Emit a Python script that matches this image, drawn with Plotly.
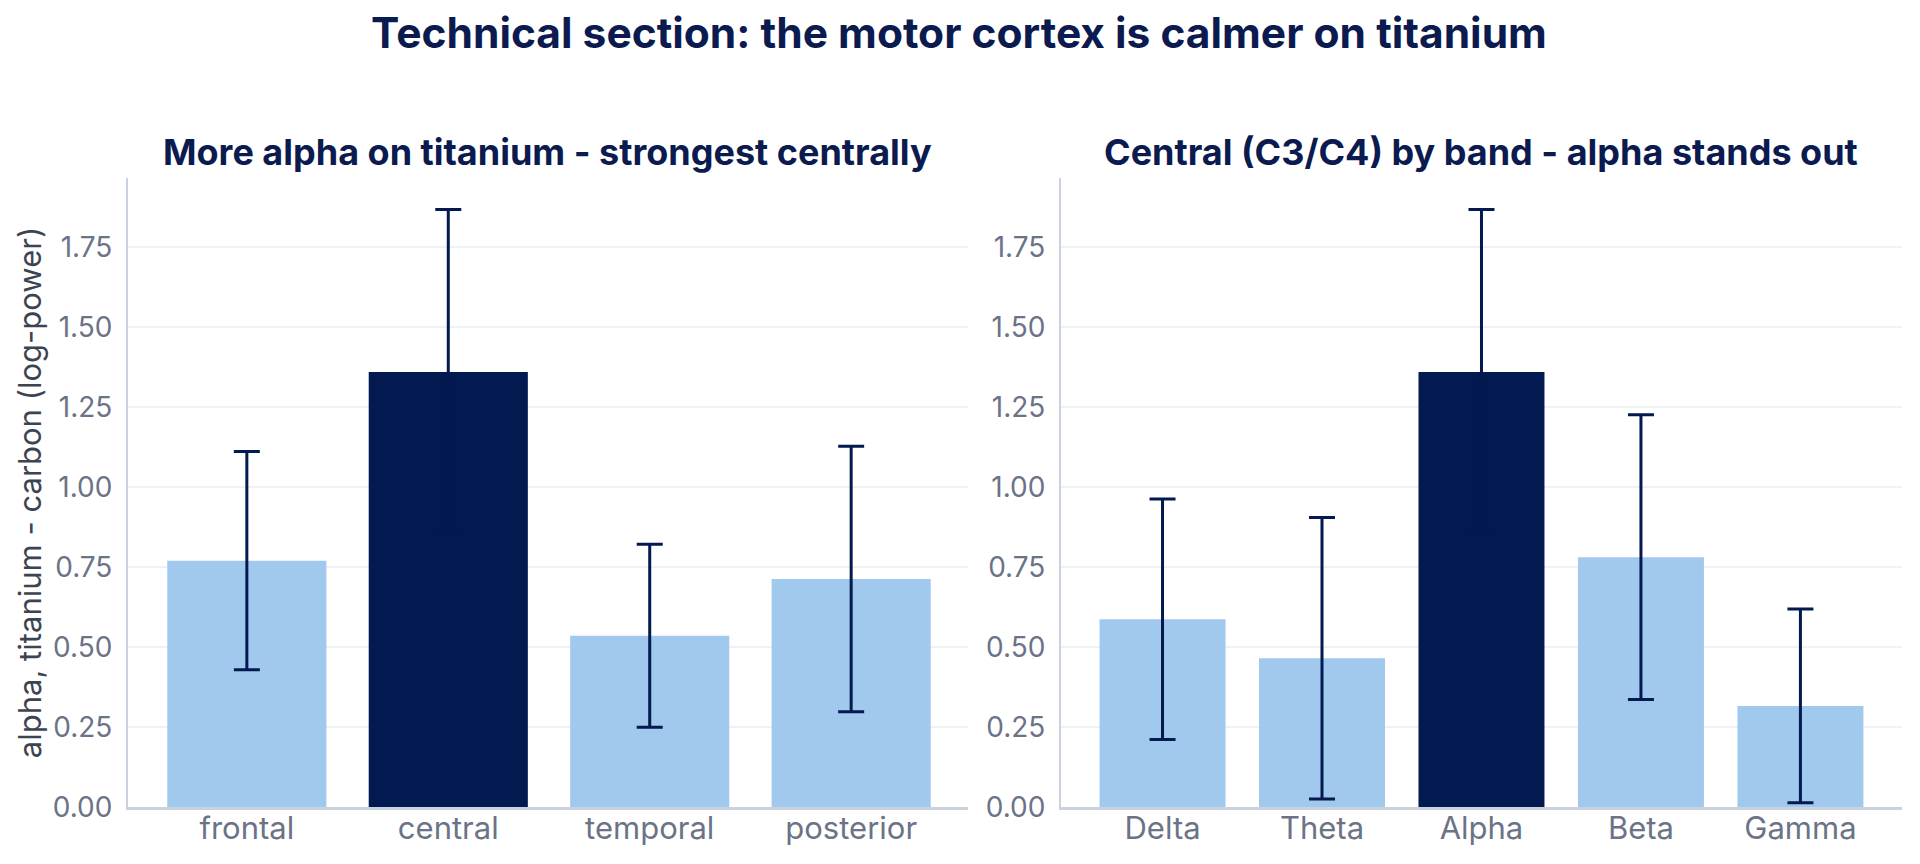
import plotly.graph_objects as go
from plotly.subplots import make_subplots

# Left panel: alpha difference by region
regions = ["frontal", "central", "temporal", "posterior"]
region_vals = [0.77, 1.36, 0.535, 0.713]
region_err = [0.341, 0.508, 0.286, 0.415]

# Right panel: central (C3/C4) by band
bands = ["Delta", "Theta", "Alpha", "Beta", "Gamma"]
band_vals = [0.587, 0.465, 1.36, 0.781, 0.316]
band_err = [0.376, 0.440, 0.508, 0.445, 0.303]

highlight_region = "central"
highlight_band = "Alpha"

DARK = "#021a50"
LIGHT = "#a1c9ee"
FONT = "Inter"

fig = make_subplots(rows=1, cols=2)

fig.add_trace(go.Bar(
    x=regions, y=region_vals,
    marker=dict(color=[DARK if r == highlight_region else LIGHT for r in regions], line=dict(width=0)),
    error_y=dict(type="data", array=region_err, visible=True, color=DARK, thickness=3, width=13),
    showlegend=False,
), row=1, col=1)

fig.add_trace(go.Bar(
    x=bands, y=band_vals,
    marker=dict(color=[DARK if b == highlight_band else LIGHT for b in bands], line=dict(width=0)),
    error_y=dict(type="data", array=band_err, visible=True, color=DARK, thickness=3, width=13),
    showlegend=False,
), row=1, col=2)

fig.update_layout(
    width=1920, height=864,
    margin=dict(l=120, r=26, t=170, b=65, autoexpand=False),
    paper_bgcolor="white", plot_bgcolor="white",
    bargap=0.21,
    font=dict(family=FONT, color="#6b7386"),
    title=dict(text="<b>Technical section: the motor cortex is calmer on titanium</b>",
               x=951 / 1920, xanchor="center", y=1 - 25 / 864, yanchor="middle", yref="container",
               font=dict(family=FONT, size=42.5, color="#0b1a4f")),
    showlegend=False,
    xaxis=dict(domain=[0, 0.4735], range=[-0.59, len(regions) - 1 + 0.58]),
    xaxis2=dict(domain=[0.5259, 1], range=[-0.637, len(bands) - 1 + 0.637]),
)

sub_titles = ["<b>More alpha on titanium - strongest centrally</b>",
              "<b>Central (C3/C4) by band - alpha stands out</b>"]
for i, t in enumerate(sub_titles):
    xa = fig.layout["xaxis" if i == 0 else "xaxis2"]
    d = xa.domain
    fig.add_annotation(text=t, x=(d[0] + d[1]) / 2, xref="paper", xanchor="center",
                       y=1 + (170 - 144) / 629, yref="paper", yanchor="middle",
                       showarrow=False, font=dict(family=FONT, size=36, color="#0b1a4f"))

fig.update_xaxes(showline=True, linecolor="#c9d2dd", linewidth=2.5, showgrid=False,
                 ticks="", tickfont=dict(size=31, color="#6b7386"), ticklabelstandoff=-8)
fig.update_yaxes(showline=True, linecolor="#c9d2dd", linewidth=2, showgrid=True,
                 gridcolor="#eef1f6", gridwidth=2, zeroline=False, ticks="",
                 tickformat=".2f", dtick=0.25, tick0=0,
                 tickfont=dict(size=28, color="#6b7386"), ticklabelstandoff=8)
fig.update_yaxes(title=dict(text="alpha, titanium - carbon (log-power)",
                            font=dict(size=31, color="#3c4452"), standoff=2), row=1, col=1)

fig.write_html("out.html")
